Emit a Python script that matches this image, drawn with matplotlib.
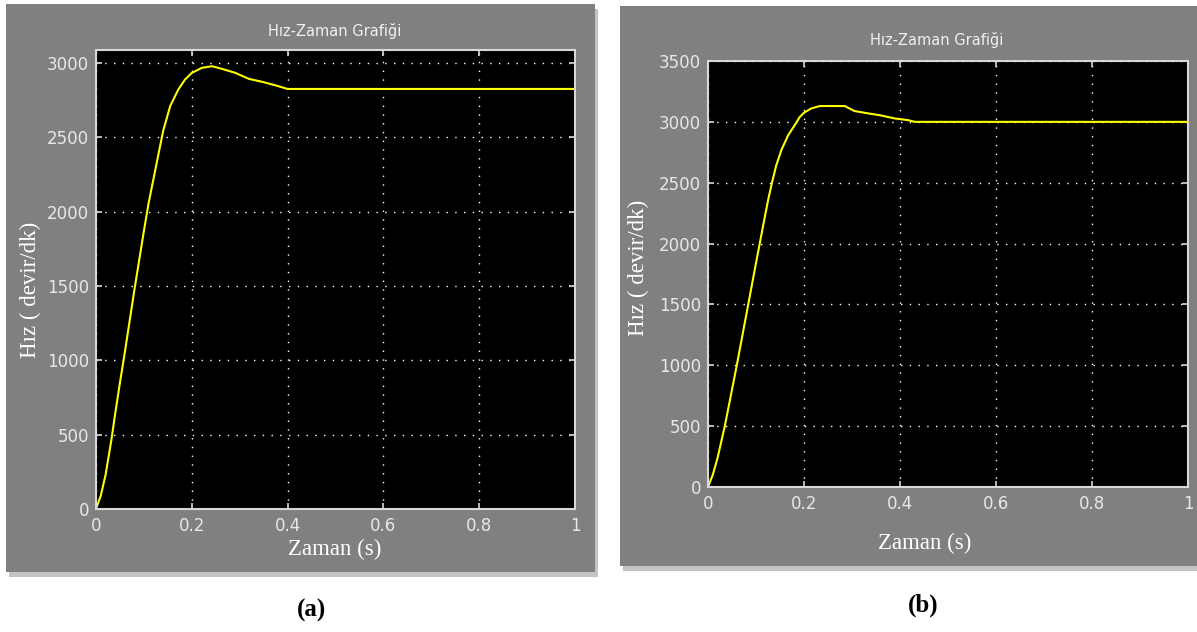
import numpy as np
import matplotlib
matplotlib.use("Agg")
import matplotlib.pyplot as plt
from matplotlib import font_manager
from matplotlib.patches import Rectangle

W, H = 1197, 632

# hız eğrisi (a)
t_a = [0, 0.01, 0.02, 0.0324, 0.04, 0.05, 0.06, 0.07, 0.08, 0.09, 0.10, 0.11, 0.12,
       0.13, 0.14, 0.155, 0.172, 0.186, 0.20, 0.221, 0.242, 0.263, 0.291, 0.319,
       0.347, 0.375, 0.40, 1.0]
v_a = [0, 90, 230, 470, 640, 850, 1050, 1260, 1470, 1670, 1870, 2060, 2220,
       2380, 2540, 2711, 2822, 2889, 2933, 2967, 2978, 2960, 2933, 2893,
       2873, 2849, 2825, 2825]

# hız eğrisi (b)
t_b = [0, 0.01, 0.02, 0.035, 0.045, 0.06, 0.08, 0.10, 0.115, 0.125, 0.132, 0.142,
       0.153, 0.167, 0.181, 0.191, 0.20, 0.215, 0.233, 0.285, 0.305, 0.333, 0.36,
       0.389, 0.417, 0.431, 1.0]
v_b = [0, 100, 240, 500, 700, 1000, 1420, 1840, 2150, 2353, 2478, 2640,
       2770, 2890, 2975, 3039, 3075, 3110, 3130, 3130, 3089, 3070, 3053,
       3028, 3014, 3000, 3000]

x_ticks = [0, 0.2, 0.4, 0.6, 0.8, 1]
x_ticklabels = ["0", "0.2", "0.4", "0.6", "0.8", "1"]
y_ticks_a = [0, 500, 1000, 1500, 2000, 2500, 3000]
y_ticks_b = [0, 500, 1000, 1500, 2000, 2500, 3000, 3500]

title = "Hız-Zaman Grafiği"
ylabel = "Hız ( devir/dk)"
xlabel = "Zaman (s)"

names = {f.name for f in font_manager.fontManager.ttflist}
narrow = "Liberation Sans Narrow" in names
scope_font = "Liberation Sans Narrow" if narrow else "DejaVu Sans"
tick_size = 15 if narrow else 12
title_size = 13.5 if narrow else 10.5


def px(x, y):
    return x / W, 1 - y / H


def rect(l, t, r, b):
    return [l / W, 1 - b / H, (r - l) / W, (b - t) / H]


fig = plt.figure(figsize=(W / 100, H / 100), dpi=100)
fig.patch.set_facecolor("white")

# gri scope panelleri + gölge (eksenlerin arkasında)
for (l, t, r, b) in [(6, 4, 595, 572), (620, 6, 1197, 566)]:
    fig.patches.append(Rectangle((l / W + 3 / W, 1 - (b + 5) / H), (r - l) / W, (b - t) / H,
                                 transform=fig.transFigure, facecolor="#c3c3c3",
                                 edgecolor="none", zorder=-2))
    fig.patches.append(Rectangle((l / W, 1 - b / H), (r - l) / W, (b - t) / H,
                                 transform=fig.transFigure, facecolor="#808080",
                                 edgecolor="none", zorder=-1))


def scope(box, t, v, yticks, ylim):
    ax = fig.add_axes(box)
    ax.set_facecolor("black")
    ax.plot(t, v, color="#ffff00", lw=1.5)
    ax.set_xlim(0, 1)
    ax.set_ylim(*ylim)
    ax.set_xticks(x_ticks)
    ax.set_xticklabels(x_ticklabels)
    ax.set_yticks(yticks)
    ax.grid(True, color="white", linestyle=(0, (1, 5.3)), lw=1.0)
    ax.tick_params(direction="in", length=4, width=1.2, color="#d8d8d8",
                   top=True, right=True, labelcolor="#e8e8e8", labelsize=tick_size)
    ax.tick_params(axis="x", pad=6)
    ax.tick_params(axis="y", pad=5)
    for lab in ax.get_xticklabels() + ax.get_yticklabels():
        lab.set_family(scope_font)
    for s in ax.spines.values():
        s.set_color("#d8d8d8")
        s.set_linewidth(1.5)
    return ax


scope(rect(96, 50, 575, 509), t_a, v_a, y_ticks_a, (0, 3087))
scope(rect(708, 61, 1188, 487), t_b, v_b, y_ticks_b, (0, 3500))

tkw = dict(color="#f0f0f0", family=scope_font, fontsize=title_size, ha="center", va="center")
fig.text(*px(335, 31), title, **tkw)
fig.text(*px(937, 40), title, **tkw)

lkw = dict(color="white", family="Liberation Serif", fontsize=16.5, ha="center", va="center")
fig.text(*px(335, 549), xlabel, **lkw)
fig.text(*px(925, 543), xlabel, **lkw)
fig.text(*px(30, 290), ylabel, rotation=90, **lkw)
fig.text(*px(638, 268), ylabel, rotation=90, **lkw)

ckw = dict(color="black", family="Liberation Serif", fontsize=18, fontweight="bold",
           ha="center", va="center")
fig.text(*px(312, 610), "(a)", **ckw)
fig.text(*px(923, 605), "(b)", **ckw)

fig.savefig("out.png", dpi=100, facecolor="white")
